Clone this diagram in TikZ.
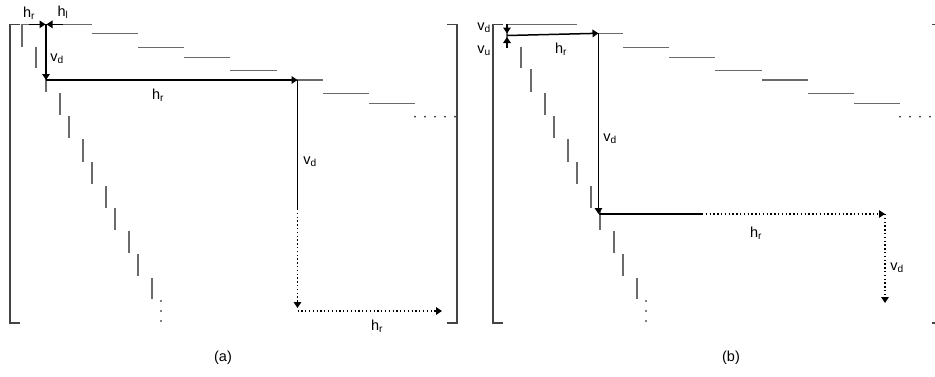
\documentclass[tikz,border=0pt]{standalone}
\usepackage{fontspec}
\setmainfont{Liberation Sans}
\usetikzlibrary{arrows.meta}
\definecolor{ink}{HTML}{000000}
\definecolor{seg}{HTML}{6A6A6A}
\definecolor{frame}{HTML}{444444}
\begin{document}
\begin{tikzpicture}[x=1pt,y=-1pt,every node/.style={font=\fontsize{14.5}{16}\selectfont,inner sep=0pt},
 cell/.style={seg,line width=1.3pt},
 brk/.style={frame,line width=1.2pt},
 arr/.style={-{Triangle[length=6pt,width=7.5pt]},ink,line width=1.5pt},
 darr/.style={arr,dash pattern=on 1.3pt off 2.5pt},
 dline/.style={ink,line width=1.5pt,dash pattern=on 1.3pt off 2.5pt}]
\clip (0,0) rectangle (935,376);
% the two staircase matrices
\foreach \s in {0,485}{
 \begin{scope}[xshift=\s]
 \foreach \xa/\xb/\y in {22/92/24.3,92/138/33.5,138/184/47.5,184/230/57.3,230/277/70.5,277/323/80,323/369/93.3,369/415/103.3}
  {\draw[cell](\xa,\y)--(\xb,\y);}
 \foreach \x/\ya/\yb in {22/24/47,36/47/68,46/69/92,60/93/115,69/116/138,83/139/162,92/162/184,106/186/208,115/208/230,129/231/253,138/254/276,152/278/299}
  {\draw[cell](\x,\ya)--(\x,\yb);}
 \foreach \x in {415,425,...,455}{\fill[ink](\x,116.7) circle (0.9);}
 \foreach \y in {301,311,321}{\fill[ink](161,\y) circle (0.9);}
 \end{scope}}
% brackets
\draw[brk](20,24.3)--(10,24.3)--(10,323)--(20,323);
\draw[brk](447,24.3)--(457,24.3)--(457,323)--(447,323);
\draw[brk](503,24.3)--(493,24.3)--(493,323)--(503,323);
\draw[brk](932,24.3)--(942,24.3)--(942,323)--(932,323);
% (a)
\coordinate(a1) at (29,24.3);
\coordinate(a2) at (45.5,24.3);
\coordinate(a3) at (63,24.3);
\coordinate(a4) at (46.5,24.3);
\coordinate(a5) at (46,24.3);
\coordinate(a6) at (46,80);
\coordinate(a7) at (297.5,80);
\coordinate(a8) at (297.5,209);
\coordinate(a9) at (297.5,308);
\coordinate(a10) at (297.5,311);
\coordinate(a11) at (442,311);
\draw[arr](a1)--(a2);
\draw[arr](a3)--(a4);
\draw[arr](a5)--(a6);
\draw[arr](a6)--(a7);
\draw[ink,line width=1.5pt](a7)--(a8);
\draw[darr](a8)--(a9);
\draw[darr](a10)--(a11);
\node(hra) at (29,13){h\textsubscript{r}};
\node(hla) at (63,12){h\textsubscript{l}};
\node(vda) at (57,59){v\textsubscript{d}};
\node(hrb) at (158,95){h\textsubscript{r}};
\node(vdb) at (310,162){v\textsubscript{d}};
\node(hrc) at (377,326){h\textsubscript{r}};
\node(capa) at (223,358){(a)};
% (b)
\coordinate(b1) at (507,24.3);
\coordinate(b2) at (507,33.5);
\coordinate(b3) at (507,47.5);
\coordinate(b4) at (507,37);
\coordinate(b5) at (507,35.5);
\coordinate(b6) at (598.5,33.3);
\coordinate(b7) at (598.5,214);
\coordinate(b8) at (702,214);
\coordinate(b9) at (885,214);
\coordinate(b10) at (885,303);
\draw[arr](b1)--(b2);
\draw[arr](b3)--(b4);
\draw[arr](b5)--(b6);
\draw[arr](b6)--(b7);
\draw[ink,line width=1.5pt](b7)--(b8);
\draw[darr](b8)--(b9);
\draw[darr](b9)--(b10);
\node(vdc) at (484,28){v\textsubscript{d}};
\node(vuc) at (484,51){v\textsubscript{u}};
\node(hrd) at (561,49){h\textsubscript{r}};
\node(vdd) at (610,139){v\textsubscript{d}};
\node(hre) at (756,233){h\textsubscript{r}};
\node(vde) at (897,268){v\textsubscript{d}};
\node(capb) at (731,358){(b)};
\end{tikzpicture}
\end{document}
